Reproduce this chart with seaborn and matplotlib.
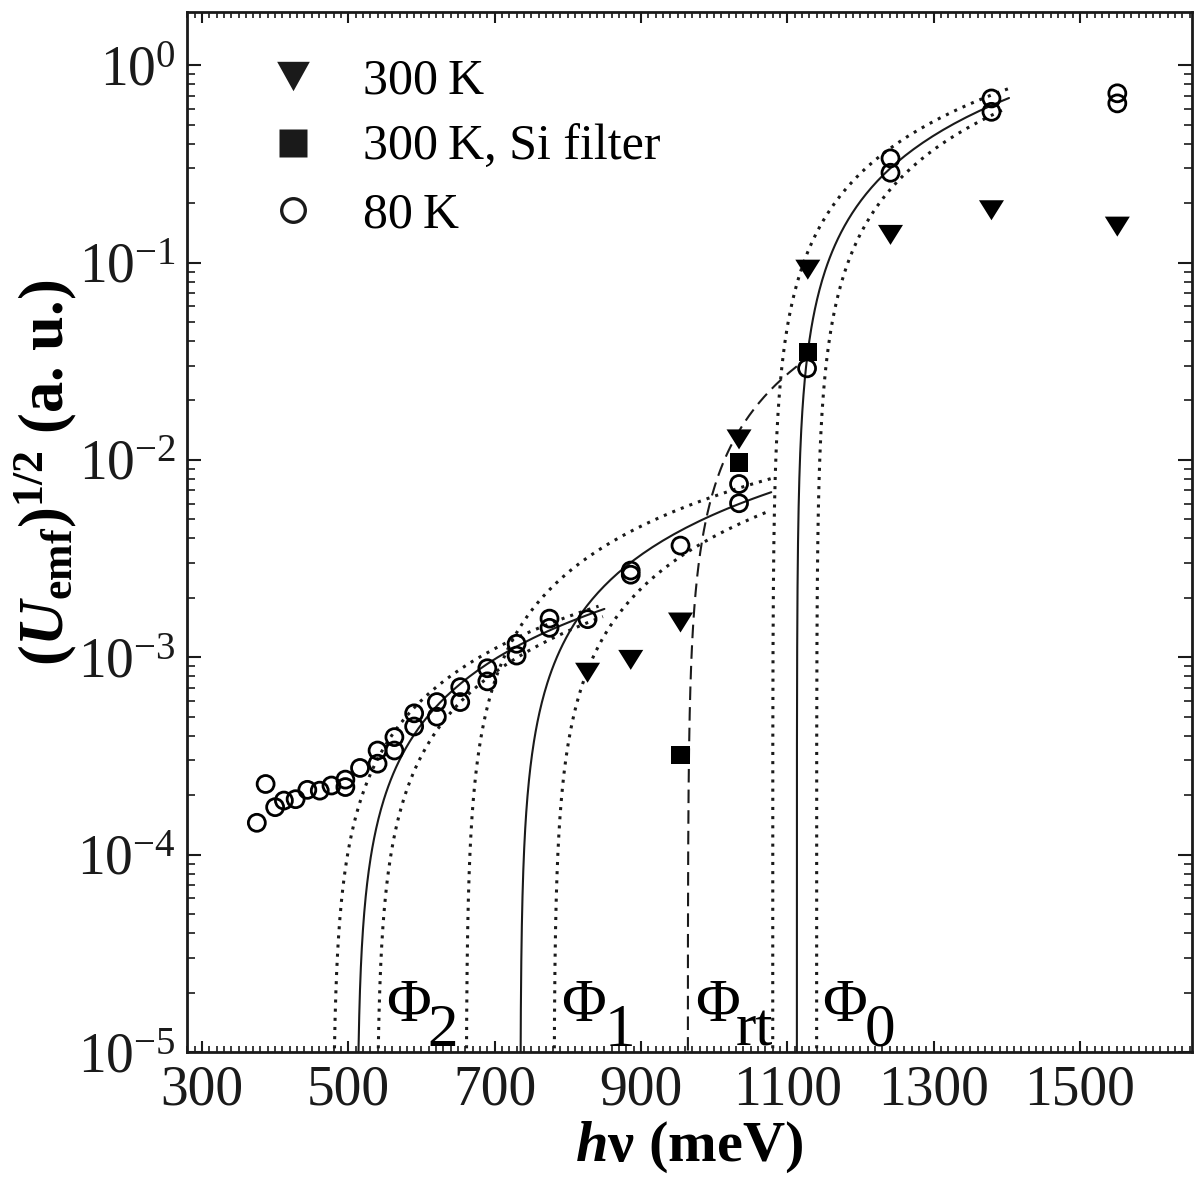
import numpy as np
import matplotlib
matplotlib.use("Agg")
import matplotlib.pyplot as plt
from matplotlib.lines import Line2D
from matplotlib.ticker import FixedLocator, MultipleLocator, LogLocator, LogFormatterMathtext, NullFormatter
import seaborn as sns

# measured points (photon energy in meV, (U_emf)^1/2 in a.u.)
t80_x = [375, 387, 400, 412, 428, 444, 461, 477, 496, 496, 516, 540, 540, 563, 563,
         590, 590, 621, 621, 653, 653, 690, 690, 730, 730, 775, 775, 827, 886, 886,
         954, 1034, 1034, 1127, 1241, 1241, 1379, 1379, 1551, 1551]
t80_y = [1.45e-4, 2.28e-4, 1.74e-4, 1.88e-4, 1.91e-4, 2.13e-4, 2.11e-4, 2.24e-4, 2.4e-4, 2.2e-4,
         2.75e-4, 3.37e-4, 2.89e-4, 3.94e-4, 3.37e-4, 5.2e-4, 4.46e-4, 5.93e-4, 5.0e-4, 7.06e-4,
         5.93e-4, 8.8e-4, 7.55e-4, 1.17e-3, 1.02e-3, 1.57e-3, 1.41e-3, 1.56e-3, 2.75e-3, 2.62e-3,
         3.68e-3, 7.55e-3, 6.03e-3, 2.91e-2, 0.337, 0.285, 0.678, 0.58, 0.72, 0.64]
t300_x = [827, 886, 954, 1034, 1128, 1241, 1379, 1551]
t300_y = [8.35e-4, 9.7e-4, 1.5e-3, 1.27e-2, 9.2e-2, 0.138, 0.184, 0.152]
si_x = [954, 1034, 1128]
si_y = [3.2e-4, 9.7e-3, 3.53e-2]

# linear threshold fits  y = A (hv - phi)
fit_phi = [512, 735, 1113]
fit_amp = [5.2e-6, 2.0e-5, 2.35e-3]
fit_end = [850, 1078, 1403]
lo_phi = [479, 661, 1080]
lo_amp = [5.0e-6, 1.93e-5, 2.36e-3]
lo_end = [842, 1078, 1403]
hi_phi = [539, 781, 1140]
hi_amp = [5.2e-6, 1.87e-5, 2.33e-3]
hi_end = [848, 1076, 1395]
rt_phi, rt_amp, rt_end = 964, 2.0e-4, 1113


def fit_curve(phi, amp, end):
    x = phi + np.geomspace(1e-4, end - phi, 400)
    return x, amp * (x - phi)


sns.set_theme(style="ticks")
plt.rcParams['font.family'] = ['Liberation Serif', 'DejaVu Serif']
plt.rcParams['mathtext.fontset'] = 'custom'
plt.rcParams['mathtext.rm'] = 'Liberation Serif'
plt.rcParams['mathtext.it'] = 'Liberation Serif:italic'
plt.rcParams['mathtext.bf'] = 'Liberation Serif:bold'
plt.rcParams['mathtext.bfit'] = 'Liberation Serif:italic:bold'
for k in ['text.color', 'axes.labelcolor', 'xtick.color', 'ytick.color', 'axes.edgecolor']:
    plt.rcParams[k] = 'black'

fig = plt.figure(figsize=(12, 11.94), dpi=100)
ax = fig.add_axes([0.1558, 0.1189, 0.8375, 0.8711])

for p, a, e in zip(fit_phi, fit_amp, fit_end):
    x, y = fit_curve(p, a, e)
    ax.plot(x, y, color='k', lw=1.5)
for p, a, e in zip(lo_phi + hi_phi, lo_amp + hi_amp, lo_end + hi_end):
    x, y = fit_curve(p, a, e)
    ax.plot(x, y, color='k', lw=2.2, ls=(0, (1, 2)), dash_capstyle='butt')
x, y = fit_curve(rt_phi, rt_amp, rt_end)
ax.plot(x, y, color='k', lw=1.5, ls=(0, (6.5, 3.4)))

tri = [(-1, 0.8), (1, 0.8), (0, -0.8)]
sns.scatterplot(x=t80_x, y=t80_y, ax=ax, marker='o', s=149, facecolors='none',
                edgecolor='black', linewidth=2.0, zorder=3)
sns.scatterplot(x=t300_x, y=t300_y, ax=ax, marker=tri, s=324, color='black',
                edgecolor='none', linewidth=0, zorder=3)
sns.scatterplot(x=si_x, y=si_y, ax=ax, marker='s', s=169, color='black',
                edgecolor='none', linewidth=0, zorder=3)

ax.set_yscale('log')
ax.set_xlim(279.5, 1653)
ax.set_ylim(1e-5, 1.86)

ax.xaxis.set_major_locator(FixedLocator([300, 500, 700, 900, 1100, 1300, 1500]))
ax.xaxis.set_minor_locator(MultipleLocator(10))
ax.yaxis.set_major_locator(LogLocator(base=10))
ax.yaxis.set_major_formatter(LogFormatterMathtext())
ax.yaxis.set_minor_locator(LogLocator(base=10, subs=np.arange(2, 10)))
ax.yaxis.set_minor_formatter(NullFormatter())

ax.tick_params(axis='both', which='both', direction='in', top=True, right=True, colors='k')
ax.tick_params(axis='x', which='major', length=8, width=1.5, labelsize=40, pad=9)
ax.tick_params(axis='x', which='minor', length=4, width=1.2)
ax.tick_params(axis='y', which='major', length=10, width=1.5, labelsize=40, pad=8)
ax.tick_params(axis='y', which='minor', length=6, width=1.2)
for s in ax.spines.values():
    s.set_linewidth(2.0)
    s.set_color('k')
ax.grid(False)

ax.set_xlabel(r'$\mathbfit{h}$ν (meV)', fontsize=42, fontweight='bold')
ax.xaxis.set_label_coords(0.5, -0.065)
ax.set_ylabel(r'$\mathbf{(}\mathbfit{U}_{\mathbf{emf}}\mathbf{)}^{\mathbf{1/2}}$ (a. u.)',
              fontsize=45, fontweight='bold')
ax.yaxis.set_label_coords(-0.107, 0.557)

# threshold labels
for xs, sub, xsub in [(552, '2', 608), (791, '1', 850), (974, 'rt', 1030), (1148, '0', 1205)]:
    ax.text(xs, 1.444e-5, 'Φ', fontsize=44, ha='left', va='baseline')
    ax.text(xsub, 1.078e-5, sub, fontsize=44, ha='left', va='baseline')

handles = [
    Line2D([], [], ls='none', marker=[(-1, 0.9), (1, 0.9), (0, -0.9)], ms=23.5, mfc='k', mec='none'),
    Line2D([], [], ls='none', marker='s', ms=19.5, mfc='k', mec='none'),
    Line2D([], [], ls='none', marker='o', ms=17, mfc='none', mec='k', mew=2.4),
]
ax.legend(handles, ['300\u2009K', '300\u2009K, Si filter', '80\u2009K'],
          loc='upper left', bbox_to_anchor=(0.0706, 0.9558), frameon=False,
          fontsize=36, handlelength=1.4, handletextpad=0.7, labelspacing=0.41,
          borderpad=0, borderaxespad=0)

fig.savefig('out.png', dpi=100)
